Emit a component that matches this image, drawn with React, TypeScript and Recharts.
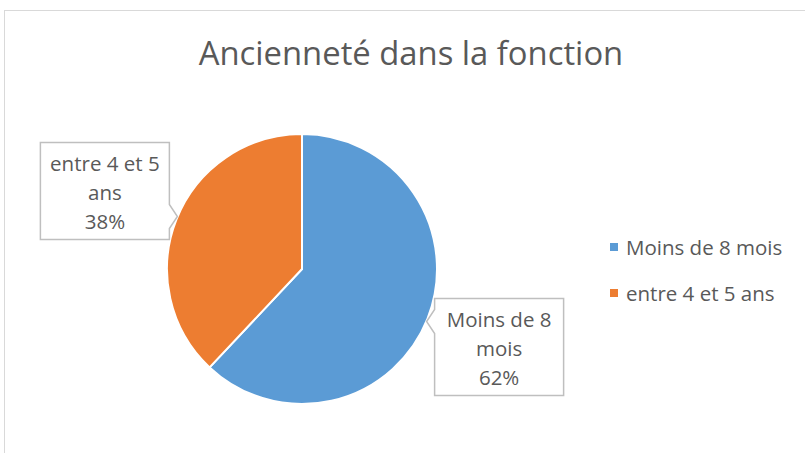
import React from "react";
import { PieChart, Pie, Cell, Legend } from "recharts";

const categories = ["Moins de 8 mois", "entre 4 et 5 ans"];
const values = [62, 38];
const colors = ["#5B9BD5", "#ED7D31"];
const title = "Ancienneté dans la fonction";

const data = categories.map((name, i) => ({ name, value: values[i] }));

const FONT = "'Open Sans', sans-serif";
const GREY = "#595959";
const RAD = Math.PI / 180;

// Excel wraps the callout text; split on words at ~12 characters
const wrap = (s: string, max: number) => {
  const lines: string[] = [];
  let cur = "";
  s.split(" ").forEach((w) => {
    const next = cur ? cur + " " + w : w;
    if (next.length > max && cur) {
      lines.push(cur);
      cur = w;
    } else cur = next;
  });
  if (cur) lines.push(cur);
  return lines;
};

const Callout = (props: any) => {
  const { cx, cy, midAngle, outerRadius, percent, name } = props;
  const r = outerRadius + 77;
  const bx = cx + r * Math.cos(-midAngle * RAD);
  const by = cy + r * Math.sin(-midAngle * RAD);
  const w = 129;
  const h = 97;
  const left = bx - w / 2;
  const right = bx + w / 2;
  const top = by - h / 2;
  const bottom = by + h / 2;
  const onRight = bx < cx; // pointer on the side facing the pie
  const edgeX = onRight ? right : left;
  const py = by + ((cy - by) * (edgeX - bx)) / (cx - bx);
  const tip = onRight ? edgeX + 8 : edgeX - 8;
  const d = onRight
    ? `M${left},${top} H${right} V${py - 12} L${tip},${py} L${right},${py + 12} V${bottom} H${left} Z`
    : `M${left},${top} H${right} V${bottom} H${left} V${py + 12} L${tip},${py} L${left},${py - 12} Z`;
  const lines = [...wrap(name, 12), `${Math.round(percent * 100)}%`];
  return (
    <g>
      <path d={d} fill="#fff" stroke="#bfbfbf" strokeWidth={1.5} />
      {lines.map((t, i) => (
        <text
          key={i}
          x={bx}
          y={by + (i - 1) * 29 + 9}
          textAnchor="middle"
          fill={GREY}
          fontSize={20.5}
          fontFamily={FONT}
        >
          {t}
        </text>
      ))}
    </g>
  );
};

const LegendBox = () => (
  <div style={{ fontFamily: FONT, fontSize: 20.5, color: GREY }}>
    {categories.map((c, i) => (
      <div key={c} style={{ display: "flex", alignItems: "center", height: 46 }}>
        <span
          style={{
            width: 8,
            height: 8,
            background: colors[i],
            marginRight: 8,
            display: "inline-block",
          }}
        />
        {c}
      </div>
    ))}
  </div>
);

const App = () => {
  return (
    <div
      style={{
        position: "absolute",
        left: 0,
        top: 0,
        width: 805,
        height: 453,
        overflow: "hidden",
        background: "#fff",
      }}
    >
      <div
        style={{
          position: "absolute",
          left: 4,
          top: 10,
          width: 900,
          height: 600,
          border: "1px solid #d9d9d9",
        }}
      />
      <div
        style={{
          position: "absolute",
          left: 0,
          top: 30,
          width: 822,
          textAlign: "center",
          fontFamily: FONT,
          fontSize: 32.8,
          color: GREY,
        }}
      >
        {title}
      </div>
      <PieChart
        width={805}
        height={453}
        margin={{ top: 0, right: 0, bottom: 0, left: 0 }}
        style={{ position: "absolute", left: 0, top: 0 }}
      >
        <Pie
          data={data}
          dataKey="value"
          nameKey="name"
          cx={302}
          cy={269}
          outerRadius={135}
          startAngle={90}
          endAngle={-270}
          stroke="#fff"
          strokeWidth={2}
          label={Callout}
          labelLine={false}
          isAnimationActive={false}
        >
          {data.map((d, i) => (
            <Cell key={d.name} fill={colors[i]} />
          ))}
        </Pie>
        <Legend
          content={LegendBox}
          wrapperStyle={{ left: 610, top: 224, width: 200, bottom: "auto", right: "auto" }}
        />
      </PieChart>
    </div>
  );
};

export default App;
